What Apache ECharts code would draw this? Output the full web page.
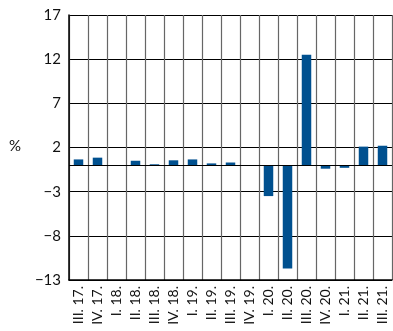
<!DOCTYPE html>
<html>
<head>
<meta charset="utf-8">
<script src="https://cdn.jsdelivr.net/npm/echarts@6/dist/echarts.min.js"></script>
<style>
  html, body { margin: 0; padding: 0; background: #fff; }
  #chart { width: 393px; height: 331px; }
</style>
</head>
<body>
<div id="chart"></div>
<script>
// 季度标签
const quarters = ['III. 17.', 'IV. 17.', 'I. 18.', 'II. 18.', 'III. 18.', 'IV. 18.',
    'I. 19.', 'II. 19.', 'III. 19.', 'IV. 19.', 'I. 20.', 'II. 20.', 'III. 20.',
    'IV. 20.', 'I. 21.', 'II. 21.', 'III. 21.'];
// 变化率 (%)
const changes = [0.65, 0.85, 0, 0.5, 0.1, 0.55, 0.65, 0.2, 0.3, 0,
    -3.5, -11.7, 12.5, -0.4, -0.3, 2.1, 2.2];
const yTicks = { min: -13, max: 17, step: 5 };

const chart = echarts.init(document.getElementById('chart'));
const font = 'Lato, "DejaVu Sans", sans-serif';

chart.setOption({
    animation: false,
    grid: { left: 69, right: 1, top: 15, bottom: 51 },
    graphic: [{
        type: 'text', left: 9, top: 139,
        style: { text: '%', font: '15px ' + font, fill: '#111' }
    }],
    xAxis: {
        type: 'category',
        data: quarters,
        boundaryGap: true,
        axisLine: { onZero: false, lineStyle: { color: '#000', width: 1.5 } },
        axisTick: { show: false },
        splitLine: { show: true, interval: 0, lineStyle: { color: '#666', width: 1.2 } },
        axisLabel: { interval: 0, rotate: 90, fontSize: 14, color: '#111', fontFamily: font, margin: 6 }
    },
    yAxis: {
        type: 'value',
        min: yTicks.min, max: yTicks.max, interval: yTicks.step,
        axisLine: { show: true, lineStyle: { color: '#000', width: 1.5 } },
        axisTick: { show: false },
        splitLine: { lineStyle: { color: '#000', width: 1 } },
        axisLabel: {
            fontSize: 15, color: '#111', fontFamily: font, margin: 8,
            formatter: v => String(v).replace('-', '\u2212')
        }
    },
    series: [{
        type: 'bar',
        data: changes,
        barWidth: '50%',
        itemStyle: { color: '#00508f' },
        markLine: {
            silent: true, symbol: 'none', label: { show: false },
            lineStyle: { color: '#000', width: 1.2, type: 'solid' },
            data: [{ yAxis: 0 }]
        }
    }]
});
</script>
</body>
</html>
